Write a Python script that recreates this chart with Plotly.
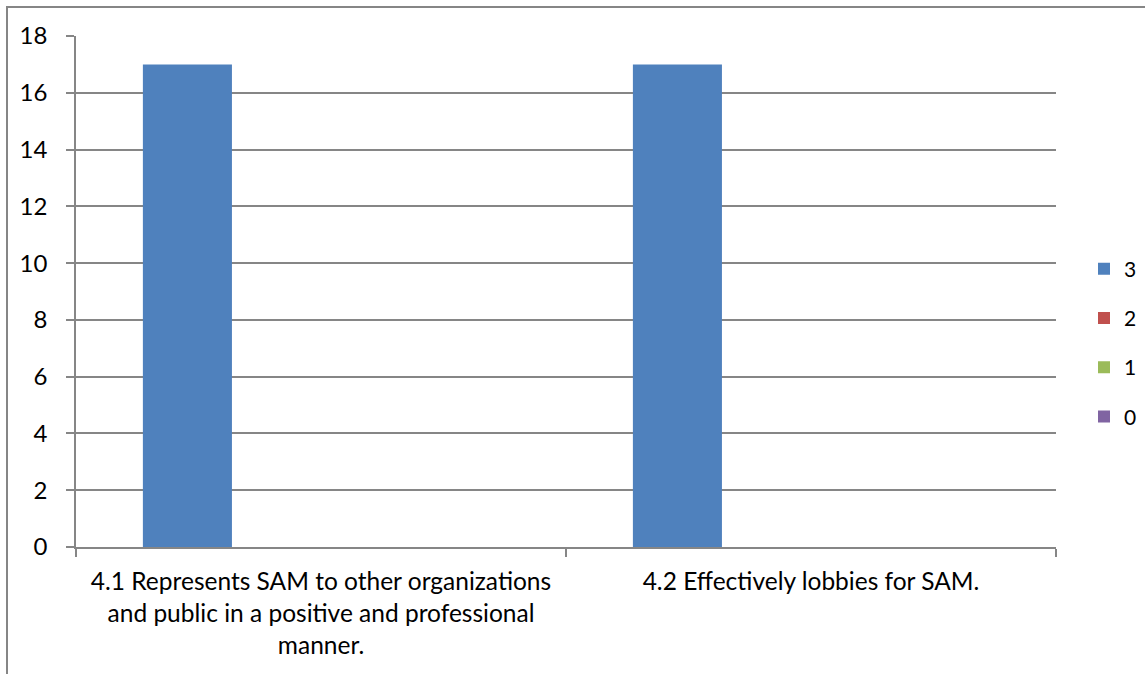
import plotly.graph_objects as go

categories = [
    "4.1 Represents SAM to other organizations<br>and public in a positive and professional<br>manner.",
    "4.2 Effectively lobbies for SAM.",
]
series_names = ["3", "2", "1", "0"]
series_values = [
    [17, 17],
    [0, 0],
    [0, 0],
    [0, 0],
]
series_colors = ["#4F81BD", "#C0504D", "#9BBB59", "#8064A2"]

FONT = "Lato, 'Open Sans', sans-serif"
GRID = "#868686"

fig = go.Figure()
for name, vals, col in zip(series_names, series_values, series_colors):
    fig.add_trace(go.Bar(
        x=categories, y=vals, name=name, marker_color=col,
        marker_line_width=0, legendgroup=name,
    ))

L, R, T, B = 76, 1056, 36, 547
W, H = 1145, 674
pw, ph = R - L, B - T

fig.update_layout(
    width=W, height=H,
    margin=dict(l=L, r=W - R, t=T, b=H - B, pad=0, autoexpand=False),
    paper_bgcolor="white", plot_bgcolor="white",
    barmode="group", bargap=0.273, bargroupgap=0,
    font=dict(family=FONT, size=24, color="black"),
    legend=dict(
        x=(1084 - L) / pw, y=(B - 343) / ph, xanchor="left", yanchor="middle",
        traceorder="grouped", tracegroupgap=19,
        font=dict(size=21), bgcolor="rgba(0,0,0,0)",
        itemwidth=30,
    ),
    xaxis=dict(
        showline=True, linecolor=GRID, linewidth=1.5,
        ticks="outside", ticklen=8, tickcolor=GRID, tickwidth=1.5,
        tickson="boundaries", showgrid=False,
        ticklabelstandoff=12,
        tickfont=dict(size=24.5),
    ),
    yaxis=dict(
        range=[0, 18], dtick=2, tick0=0,
        showline=True, linecolor=GRID, linewidth=1.5,
        ticks="outside", ticklen=8, tickcolor=GRID, tickwidth=1.5,
        showgrid=True, gridcolor=GRID, gridwidth=1.5,
        zeroline=False, ticklabelstandoff=14,
        tickfont=dict(size=24),
    ),
    shapes=[dict(
        type="rect", xref="paper", yref="paper",
        x0=(7 - L) / pw, x1=2, y0=-1, y1=1 + (T - 7) / ph,
        line=dict(color=GRID, width=2), layer="below",
    )],
)

fig.write_html(
    "out.html",
    config={"displayModeBar": False},
    post_script="document.body.style.margin='0';document.body.style.overflow='hidden';",
)
